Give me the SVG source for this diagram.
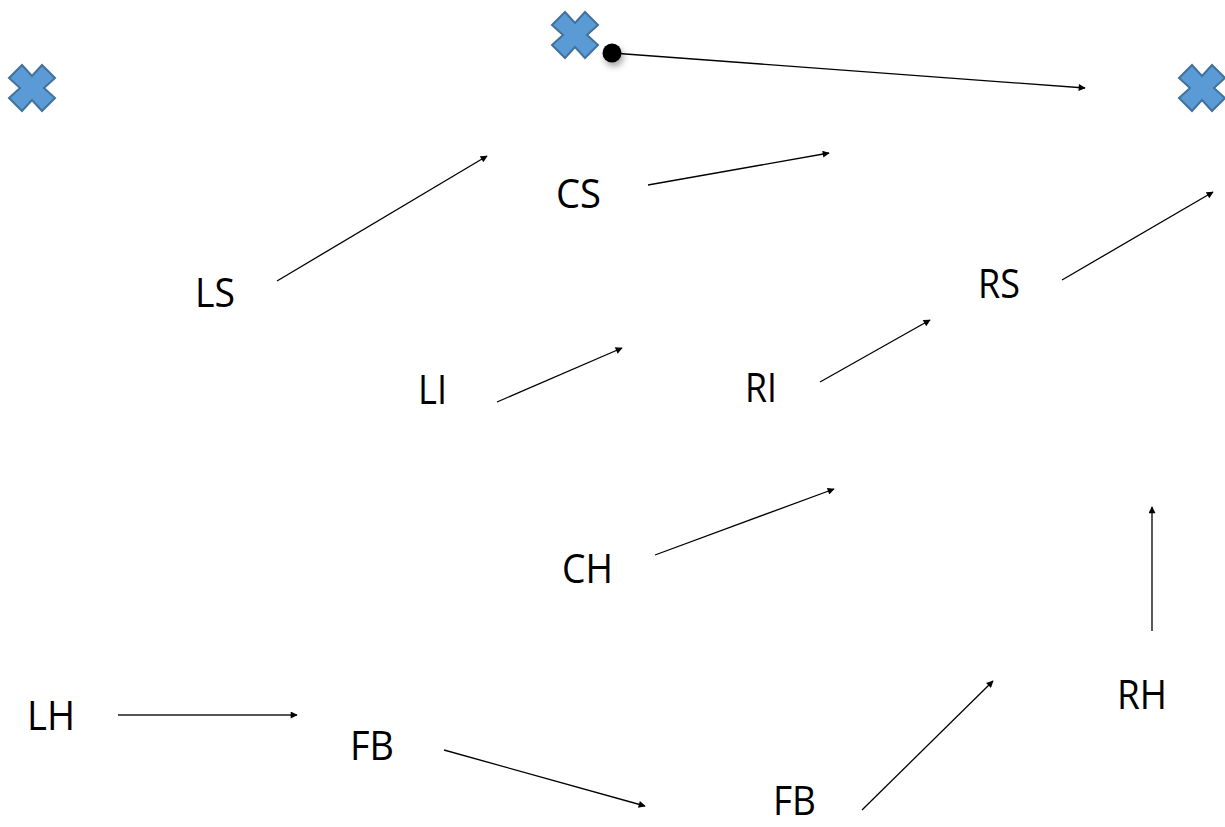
<svg xmlns="http://www.w3.org/2000/svg" width="1225" height="827" viewBox="0 0 1225 827">
  <defs>
    <marker id="arrow" viewBox="0 0 10 10" refX="9" refY="5" markerWidth="9" markerHeight="7" markerUnits="userSpaceOnUse" orient="auto">
      <path d="M0,0 L10,5 L0,10 Z" fill="#000"/>
    </marker>
    <polygon id="cross" points="-23,-10 -10,-23 0,-12 10,-23 23,-10 12,0 23,10 10,23 0,12 -10,23 -23,10 -12,0"/>
    <filter id="shadow" x="-100%" y="-100%" width="300%" height="300%">
      <feDropShadow dx="2" dy="4" stdDeviation="3" flood-color="#000" flood-opacity="0.35"/>
    </filter>
  </defs>
  <style>
    .lbl { font-family: "Open Sans", "Noto Sans", sans-serif; font-size: 41px; fill: #000; }
    .edge { stroke: #000; stroke-width: 1.3; fill: none; marker-end: url(#arrow); }
    .edge.gray { stroke: #555; stroke-width: 2; }
    .mark { fill: #5B9BD5; stroke: #41719C; stroke-width: 2; }
  </style>
  <rect width="1225" height="827" fill="#fff"/>

  <!-- cross markers -->
  <g id="mark-left"><use href="#cross" class="mark" x="32" y="88"/></g>
  <g id="mark-top"><use href="#cross" class="mark" x="575" y="35"/></g>
  <g id="mark-right"><use href="#cross" class="mark" x="1202" y="88"/></g>

  <!-- connectors -->
  <g id="connectors">
    <line class="edge" x1="612" y1="53" x2="1085" y2="88"/>
    <line class="edge" x1="277" y1="281" x2="487" y2="156"/>
    <line class="edge" x1="648" y1="185" x2="829" y2="153"/>
    <line class="edge" x1="1062" y1="280" x2="1213" y2="192"/>
    <line class="edge" x1="497" y1="402" x2="622" y2="348"/>
    <line class="edge" x1="820" y1="382" x2="930" y2="320"/>
    <line class="edge" x1="655" y1="555" x2="834" y2="489"/>
    <line class="edge" x1="1152" y1="631" x2="1152" y2="507"/>
    <line class="edge gray" x1="118" y1="715" x2="297" y2="715"/>
    <line class="edge" x1="444" y1="750" x2="645" y2="806"/>
    <line class="edge" x1="862" y1="810" x2="993" y2="681"/>
  </g>

  <!-- start point -->
  <g id="start-dot"><circle cx="612" cy="53" r="9.5" fill="#000" filter="url(#shadow)"/></g>

  <!-- labels -->
  <g id="node-CS"><text class="lbl" x="556" y="208" textLength="45" lengthAdjust="spacingAndGlyphs">CS</text></g>
  <g id="node-LS"><text class="lbl" x="195" y="307" textLength="40" lengthAdjust="spacingAndGlyphs">LS</text></g>
  <g id="node-RS"><text class="lbl" x="978" y="298" textLength="42" lengthAdjust="spacingAndGlyphs">RS</text></g>
  <g id="node-LI"><text class="lbl" x="418" y="404" textLength="29" lengthAdjust="spacingAndGlyphs">LI</text></g>
  <g id="node-RI"><text class="lbl" x="745" y="402" textLength="32" lengthAdjust="spacingAndGlyphs">RI</text></g>
  <g id="node-CH"><text class="lbl" x="562" y="583" textLength="51" lengthAdjust="spacingAndGlyphs">CH</text></g>
  <g id="node-LH"><text class="lbl" x="27" y="730" textLength="48" lengthAdjust="spacingAndGlyphs">LH</text></g>
  <g id="node-FB1"><text class="lbl" x="350" y="760" textLength="44" lengthAdjust="spacingAndGlyphs">FB</text></g>
  <g id="node-RH"><text class="lbl" x="1117" y="709" textLength="50" lengthAdjust="spacingAndGlyphs">RH</text></g>
  <g id="node-FB2"><text class="lbl" x="773" y="815" textLength="43" lengthAdjust="spacingAndGlyphs">FB</text></g>
</svg>
